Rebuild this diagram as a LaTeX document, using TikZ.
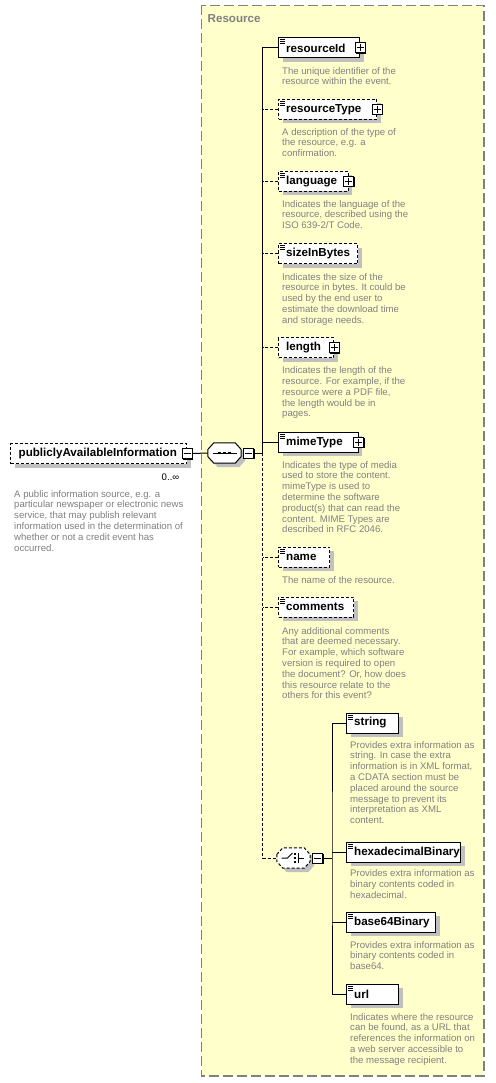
\documentclass[tikz,border=0pt]{standalone}
\usepackage{fontspec}
\setmainfont{Liberation Sans}
\usetikzlibrary{shadows,calc}
\definecolor{resfill}{RGB}{255,255,204}
\definecolor{resborder}{RGB}{128,128,128}
\definecolor{descgray}{RGB}{128,128,128}
\definecolor{shadowgray}{RGB}{192,192,192}
\tikzset{
 elem/.style={draw=black, fill=white, line width=1pt, minimum height=20pt, inner sep=0pt, anchor=west,
   general shadow={fill=shadowgray, shadow xshift=4pt, shadow yshift=-4pt}},
 optbox/.style={dash pattern=on 3pt off 2pt},
 ename/.style={font=\fontsize{11.6}{13}\selectfont\bfseries, anchor=west, inner sep=0pt},
 desc/.style={font=\fontsize{9.6}{10.8}\selectfont, text=descgray, align=left, anchor=north west, inner sep=0pt},
 pm/.style={draw=black, fill=white, line width=1pt, minimum size=10pt, inner sep=0pt,
   general shadow={fill=black, shadow xshift=1pt, shadow yshift=-1pt}},
 conn/.style={line width=1pt},
 optconn/.style={line width=1pt, dash pattern=on 3pt off 2pt},
 compframe/.style={rectangle, minimum width=33pt, minimum height=20pt, inner sep=0pt},
 glyph/.style={line width=1pt},
}
\newcommand\plusbox[1]{%
 \node[pm] (#1p) at (#1.east) {};
 \draw[glyph] ([xshift=2pt]#1p.west) -- ([xshift=-2pt]#1p.east) ([yshift=-2pt]#1p.north) -- ([yshift=2pt]#1p.south);}
\newcommand\listicon[1]{%
 \draw[glyph] ($(#1.north west)+(2,2.5)$) -- ++(5,0) ($(#1.north west)+(2,4.5)$) -- ++(5,0) ($(#1.north west)+(2,6.5)$) -- ++(5,0);}
\newcommand\octapath[2]{% #1 node, #2 shift
 ($(#1.west)+(#2,-3.5+#2)$) -- ($(#1.north west)+(6+#2,#2)$) -- ($(#1.north east)+(-6+#2,#2)$) -- ($(#1.east)+(#2,-3.5+#2)$) -- ($(#1.east)+(#2,3.5+#2)$) -- ($(#1.south east)+(-6+#2,#2)$) -- ($(#1.south west)+(6+#2,#2)$) -- ($(#1.west)+(#2,3.5+#2)$) -- cycle}
\begin{document}
\begin{tikzpicture}[x=1pt,y=-1pt]
\useasboundingbox (0,0) rectangle (495,1083);
\fill[white] (0,0) rectangle (495,1083);
% container
\draw[resborder, fill=resfill, line width=1.5pt, dash pattern=on 10pt off 4pt] (201.5,5.5) rectangle (484,1076);
\node[ename, text=resborder] (restitle) at (207.5,19) {Resource};

% top element
\node[elem, optbox, minimum width=176pt] (pai) at (10,453.5) {};
\node[ename] (pait) at ([xshift=8.5pt]pai.west) {publiclyAvailableInformation};
\node[pm] (paim) at (pai.east) {};
\draw[glyph] ([xshift=2pt]paim.west) -- ([xshift=-2pt]paim.east);
\node[font=\fontsize{9.6}{11}\selectfont, inner sep=0pt] (paioc) at (170.5,477.5) {0..∞};
\node[desc] (paid) at (14,490) {A public information source, e.g. a\\particular newspaper or electronic news\\service, that may publish relevant\\information used in the determination of\\whether or not a credit event has\\occurred.};

% sequence compositor
\node[compframe] (seq) at (224.5,453) {};
\fill[shadowgray] \octapath{seq}{4};
\draw[line width=1pt, fill=white] \octapath{seq}{0};
\draw[glyph] ($(seq.center)+(-12,0)$) -- ($(seq.center)+(12,0)$);
\foreach \dx in {-5,0,5}{\fill ($(seq.center)+(\dx-1.4,-1.4)$) rectangle ++(2.8,2.8);}
\node[pm, anchor=west] (seqm) at ([xshift=2pt]seq.east) {};
\draw[glyph] ([xshift=2pt]seqm.west) -- ([xshift=-2pt]seqm.east);
\coordinate (sp) at (262.5,453);

% sequence children
\node[elem, minimum width=81pt] (rid) at (278,48) {};
\node[ename] (ridt) at ([xshift=8pt]rid.west) {resourceId};
\listicon{rid}\plusbox{rid}
\node[desc] (ridd) at (282,67) {The unique identifier of the\\resource within the event.};

\node[elem, optbox, minimum width=98pt] (rtype) at (278,109.5) {};
\node[ename] (rtypet) at ([xshift=8pt]rtype.west) {resourceType};
\listicon{rtype}\plusbox{rtype}
\node[desc] (rtyped) at (282,128) {A description of the type of\\the resource, e.g. a\\confirmation.};

\node[elem, optbox, minimum width=69.5pt] (lang) at (278,181.5) {};
\node[ename] (langt) at ([xshift=8pt]lang.west) {language};
\listicon{lang}\plusbox{lang}
\node[desc] (langd) at (282,200) {Indicates the language of the\\resource, described using the\\ISO 639-2/T Code.};

\node[elem, optbox, minimum width=79pt] (size) at (278,253.5) {};
\node[ename] (sizet) at ([xshift=8pt]size.west) {sizeInBytes};
\listicon{size}
\node[desc] (sized) at (282,273) {Indicates the size of the\\resource in bytes. It could be\\used by the end user to\\estimate the download time\\and storage needs.};

\node[elem, optbox, minimum width=55pt] (len) at (278,347.5) {};
\node[ename] (lent) at ([xshift=8pt]len.west) {length};
\plusbox{len}
\node[desc] (lend) at (282,366.5) {Indicates the length of the\\resource. For example, if the\\resource were a PDF file,\\the length would be in\\pages.};

\node[elem, minimum width=79.5pt] (mime) at (278,442) {};
\node[ename] (mimet) at ([xshift=8pt]mime.west) {mimeType};
\listicon{mime}\plusbox{mime}
\node[desc] (mimed) at (282,461) {Indicates the type of media\\used to store the content.\\mimeType is used to\\determine the software\\product(s) that can read the\\content. MIME Types are\\described in RFC 2046.};

\node[elem, optbox, minimum width=51pt] (name) at (278,557) {};
\node[ename] (namet) at ([xshift=8pt]name.west) {name};
\listicon{name}
\node[desc] (named) at (282,576) {The name of the resource.};

\node[elem, optbox, minimum width=75pt] (comm) at (278,607) {};
\node[ename] (commt) at ([xshift=8pt]comm.west) {comments};
\listicon{comm}
\node[desc] (commd) at (282,627) {Any additional comments\\that are deemed necessary.\\For example, which software\\version is required to open\\the document? Or, how does\\this resource relate to the\\others for this event?};

% choice compositor
\node[compframe] (choice) at (293.5,858) {};
\fill[shadowgray] \octapath{choice}{4};
\draw[line width=1pt, fill=white, dash pattern=on 3pt off 2pt] \octapath{choice}{0};
\draw[glyph] ($(choice.center)+(-12,0)$) -- ++(6,0) -- ++(5,-5);
\foreach \dy in {-4,0,4}{\fill ($(choice.center)+(0.5,\dy-1.2)$) rectangle ++(2.4,2.4);}
\draw[glyph] ($(choice.center)+(4.5,-5)$) -- ++(0,10) ($(choice.center)+(4.5,0)$) -- ++(6,0);
\node[pm, anchor=west] (choicem) at ([xshift=2pt]choice.east) {};
\draw[glyph] ([xshift=2pt]choicem.west) -- ([xshift=-2pt]choicem.east);
\coordinate (sp2) at (332,858);

% choice children
\node[elem, minimum width=52pt] (str) at (346,723) {};
\node[ename] (strt) at ([xshift=8pt]str.west) {string};
\listicon{str}
\node[desc] (strd) at (350,741) {Provides extra information as\\string. In case the extra\\information is in XML format,\\a CDATA section must be\\placed around the source\\message to prevent its\\interpretation as XML\\content.};

\node[elem, minimum width=114pt] (hex) at (346,852) {};
\node[ename] (hext) at ([xshift=8pt]hex.west) {hexadecimalBinary};
\listicon{hex}
\node[desc] (hexd) at (350,869.5) {Provides extra information as\\binary contents coded in\\hexadecimal.};

\node[elem, minimum width=89pt] (b64) at (346,922) {};
\node[ename] (b64t) at ([xshift=8pt]b64.west) {base64Binary};
\listicon{b64}
\node[desc] (b64d) at (350,941) {Provides extra information as\\binary contents coded in\\base64.};

\node[elem, minimum width=52pt] (url) at (346,994) {};
\node[ename] (urlt) at ([xshift=8pt]url.west) {url};
\listicon{url}
\node[desc] (urld) at (350,1013) {Indicates where the resource\\can be found, as a URL that\\references the information on\\a web server accessible to\\the message recipient.};

% connectors
\draw[conn] (paim.east) -- (seq.west);
\draw[conn] (seqm.east) -- (sp);
\draw[conn] (rid.west) -| (sp);
\draw[conn] (mime.west) -- (mime.west -| sp);
\draw[optconn] (sp) |- (choice.west);
\foreach \n in {rtype,lang,size,len,name,comm}{\draw[optconn] (\n.west) -- (\n.west -| sp);}
\draw[conn] (choicem.east) -- (sp2);
\draw[conn] (str.west) -| (sp2) |- (url.west);
\draw[conn] (hex.west) -- (hex.west -| sp2);
\draw[conn] (b64.west) -- (b64.west -| sp2);
\end{tikzpicture}
\end{document}
